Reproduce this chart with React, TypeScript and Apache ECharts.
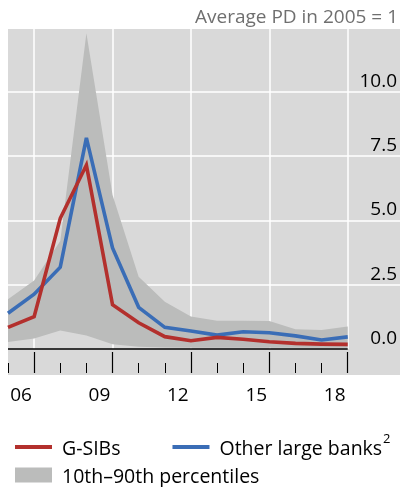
import React, { useEffect, useRef } from 'react';
import * as echarts from 'echarts';

// Annual observations (plotted at year-end)
const years = [2005, 2006, 2007, 2008, 2009, 2010, 2011, 2012, 2013, 2014, 2015, 2016, 2017, 2018];
const gsibs = [0.84, 1.26, 5.08, 7.15, 1.72, 1.02, 0.48, 0.32, 0.45, 0.38, 0.28, 0.22, 0.19, 0.18];
const otherLargeBanks = [1.39, 2.13, 3.18, 8.21, 3.93, 1.62, 0.84, 0.7, 0.54, 0.67, 0.63, 0.51, 0.35, 0.47];
const pct10 = [0.27, 0.41, 0.72, 0.52, 0.18, 0.09, 0.06, 0.05, 0.05, 0.05, 0.05, 0.05, 0.05, 0.05];
const pct90 = [1.93, 2.66, 4.2, 12.27, 5.99, 2.81, 1.84, 1.26, 1.1, 1.1, 1.09, 0.77, 0.74, 0.87];

// Axis tick / label positions (year boundaries)
const xLabelYears = [2006, 2009, 2012, 2015, 2018];
const majorTickYears = [2007, 2010, 2013, 2016, 2019];
const minorTickYears = [2006, 2008, 2009, 2011, 2012, 2014, 2015, 2017, 2018];
const yLabelValues = [0, 2.5, 5, 7.5, 10];
const yGridValues = [2.5, 5, 7.5, 10];

const TITLE = 'Average PD in 2005 = 1';
const NAME_G = 'G-SIBs';
const NAME_O = 'Other large banks';
const NAME_O_NOTE = '2';
const NAME_BAND = '10th–90th percentiles';

const FONT = "'Open Sans', sans-serif";
const RED = '#b3302d';
const BLUE = '#3a6db6';
const BAND_COLOR = '#bbbcbb';
const BG = '#d9d9d9';

const yearEnd = (y: number) => y + 1;

export default function App() {
  const ref = useRef<HTMLDivElement>(null);

  useEffect(() => {
    if (!ref.current) return;
    const chart = echarts.init(ref.current, undefined, { renderer: 'svg' });

    const legendText = {
      fontFamily: FONT,
      fontSize: 19.5,
      color: '#000',
      padding: [0, 0, 0, 5],
    };

    const option: any = {
      animation: false,
      textStyle: { fontFamily: FONT },
      title: {
        text: TITLE,
        right: 2,
        top: 6,
        padding: 0,
        textStyle: { fontFamily: FONT, fontSize: 19, fontWeight: 'normal', color: '#6f6f6f' },
      },
      graphic: [
        {
          type: 'rect',
          z: -10,
          silent: true,
          shape: { x: 8, y: 29, width: 392, height: 346 },
          style: { fill: BG },
        },
        {
          type: 'text',
          silent: true,
          x: 383,
          y: 431,
          style: {
            text: NAME_O_NOTE,
            fontFamily: FONT,
            fontSize: 13,
            fill: '#000',
            align: 'left',
            verticalAlign: 'top',
          },
        },
      ],
      grid: { left: 8, right: 0, top: 29, bottom: 138, containLabel: false },
      xAxis: [
        {
          type: 'value',
          min: 2006,
          max: 2021,
          axisLine: { show: false },
          axisTick: { show: false, customValues: majorTickYears },
          axisLabel: { show: false },
          splitLine: { show: true, lineStyle: { color: '#ffffff', width: 1.5 } },
        },
        {
          type: 'value',
          min: 2006,
          max: 2021,
          position: 'bottom',
          offset: 24,
          axisLine: { show: false },
          axisTick: { show: true, inside: true, length: 21, customValues: majorTickYears, lineStyle: { color: '#000', width: 1.2 } },
          axisLabel: {
            show: true,
            customValues: xLabelYears.map((y) => y + 0.5),
            formatter: (v: number) => String(Math.floor(v)).slice(2),
            margin: 11,
            fontFamily: FONT,
            fontSize: 19,
            color: '#000',
          },
          splitLine: { show: false },
        },
        {
          type: 'value',
          min: 2006,
          max: 2021,
          position: 'bottom',
          offset: 24,
          axisLine: { show: false },
          axisTick: { show: true, inside: true, length: 10, customValues: minorTickYears, lineStyle: { color: '#000', width: 1 } },
          axisLabel: { show: false },
          splitLine: { show: false },
        },
      ],
      yAxis: {
        type: 'value',
        position: 'right',
        min: 0,
        max: 12.44,
        axisLine: { show: false },
        axisTick: { show: false, customValues: yGridValues },
        splitLine: { show: true, lineStyle: { color: '#ffffff', width: 1.5 } },
        axisLabel: {
          inside: true,
          customValues: yLabelValues,
          formatter: (v: number) => v.toFixed(1),
          fontFamily: FONT,
          fontSize: 19,
          color: '#000',
          margin: 3,
          verticalAlign: 'bottom',
          lineHeight: 20,
          padding: [0, 0, 2, 0],
        },
      },
      legend: [
        {
          data: [
            { name: NAME_G, itemStyle: { color: RED } },
            { name: NAME_O, itemStyle: { color: BLUE } },
          ],
          left: 15,
          top: 437,
          padding: 0,
          icon: 'rect',
          itemWidth: 37,
          itemHeight: 4,
          itemGap: 52,
          selectedMode: false,
          textStyle: legendText,
        },
        {
          data: [{ name: NAME_BAND, itemStyle: { color: BAND_COLOR } }],
          left: 15,
          top: 465,
          padding: 0,
          icon: 'rect',
          itemWidth: 37,
          itemHeight: 15,
          selectedMode: false,
          textStyle: legendText,
        },
      ],
      series: [
        {
          name: NAME_BAND,
          type: 'custom',
          data: years.map((y, i) => [yearEnd(y), pct10[i], pct90[i]]),
          encode: { x: 0, y: [1, 2] },
          itemStyle: { color: BAND_COLOR },
          silent: true,
          z: 1,
          renderItem: (params: any, api: any) => {
            if (params.dataIndex !== 0) return null;
            const upper: number[][] = [];
            const lower: number[][] = [];
            for (let i = 0; i < years.length; i++) {
              upper.push(api.coord([yearEnd(years[i]), pct90[i]]));
              lower.push(api.coord([yearEnd(years[i]), pct10[i]]));
            }
            return {
              type: 'polygon',
              shape: { points: upper.concat(lower.reverse()) },
              style: { fill: BAND_COLOR },
            };
          },
        },
        {
          name: NAME_O,
          type: 'line',
          data: years.map((y, i) => [yearEnd(y), otherLargeBanks[i]]),
          symbol: 'none',
          itemStyle: { color: BLUE },
          lineStyle: { color: BLUE, width: 3.6, join: 'miter' },
          z: 3,
        },
        {
          name: NAME_G,
          type: 'line',
          data: years.map((y, i) => [yearEnd(y), gsibs[i]]),
          symbol: 'none',
          itemStyle: { color: RED },
          lineStyle: { color: RED, width: 3.6, join: 'miter' },
          z: 4,
          markLine: {
            silent: true,
            symbol: ['none', 'none'],
            label: { show: false },
            lineStyle: { color: '#000', width: 1.5, type: 'solid' },
            data: [
              [
                { coord: [yearEnd(years[0]), 0] },
                { coord: [yearEnd(years[years.length - 1]), 0] },
              ],
            ],
          },
        },
      ],
    };

    chart.setOption(option);
    return () => chart.dispose();
  }, []);

  return (
    <div
      ref={ref}
      style={{ position: 'fixed', left: 0, top: 0, width: 400, height: 487 }}
    />
  );
}
